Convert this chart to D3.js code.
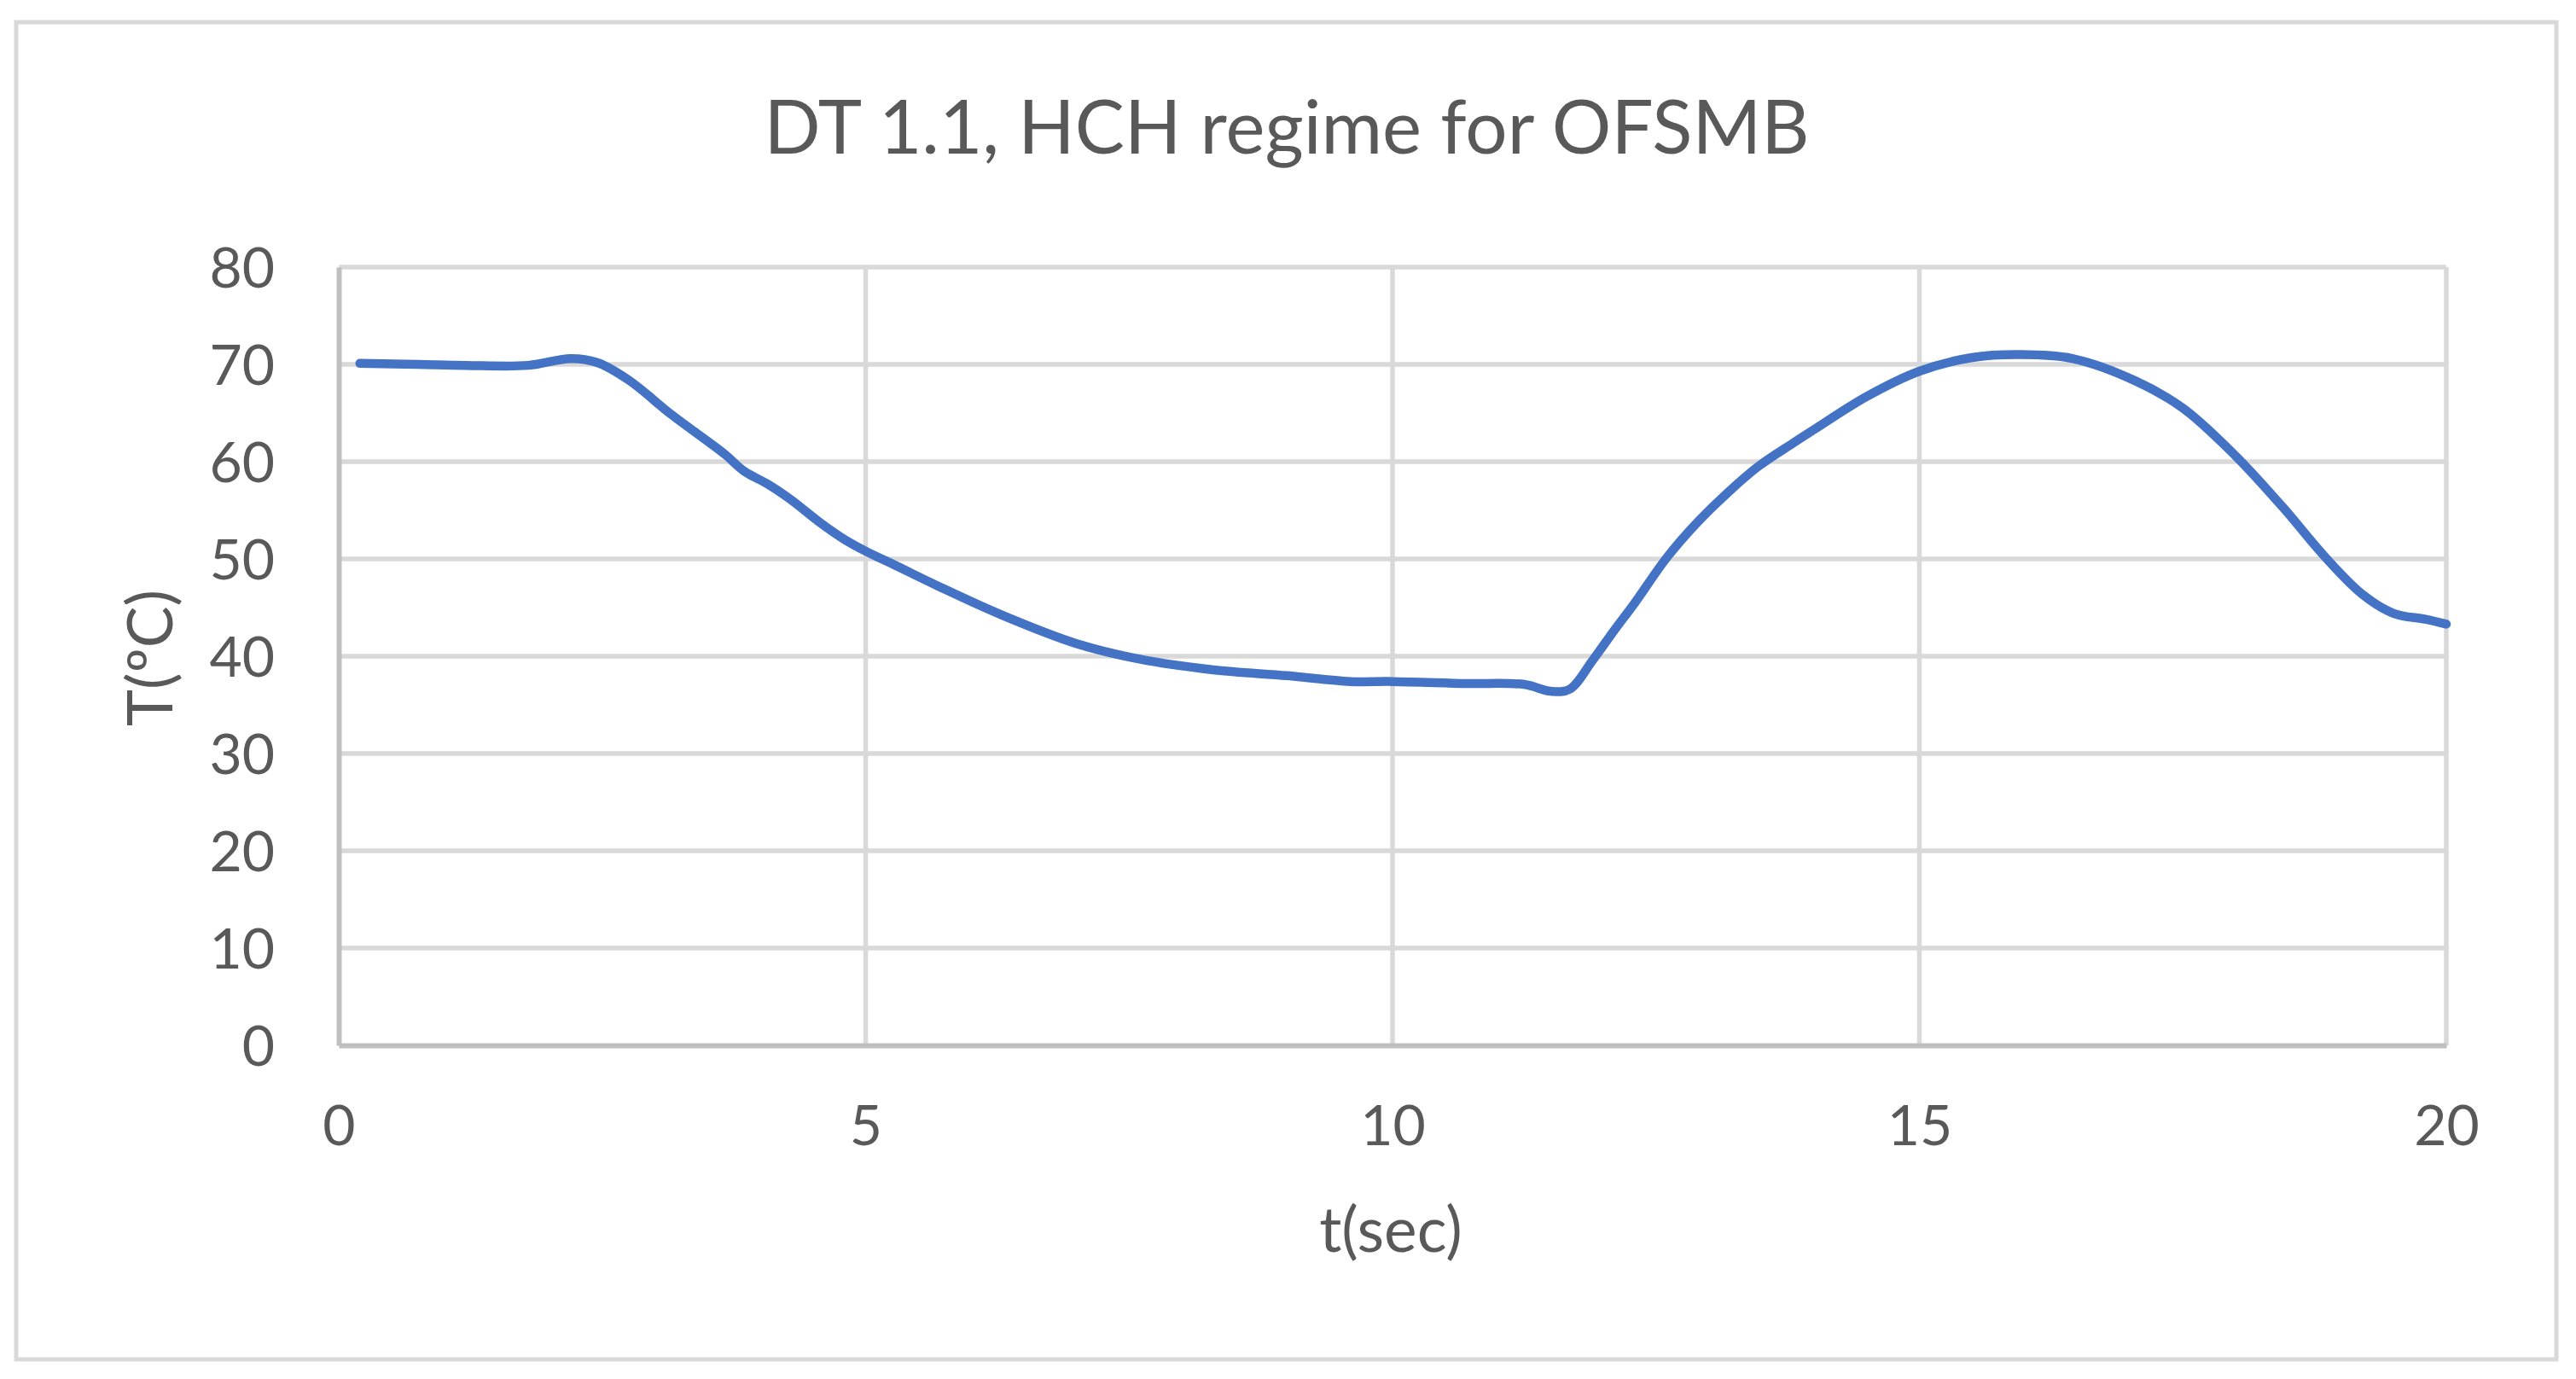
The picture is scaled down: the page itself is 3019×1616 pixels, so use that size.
<!DOCTYPE html>
<html>
<head>
<meta charset="utf-8">
<script src="https://cdn.jsdelivr.net/npm/d3@7"></script>
<style>
  html, body { margin: 0; padding: 0; background: #ffffff; }
  svg { display: block; }
  text { font-family: Lato, "Open Sans", sans-serif; fill: #595959; }
</style>
</head>
<body>
<svg id="chart" width="3019" height="1616"></svg>
<script>
// ---- data ----
const chartTitle = "DT 1.1, HCH regime for OFSMB";
const xTitle = "t(sec)";
const yTitle = "T(ºC)";
const xTicks = [0, 5, 10, 15, 20];
const yTicks = [0, 10, 20, 30, 40, 50, 60, 70, 80];
const timeSec = [0.2, 0.75, 1.2, 1.8, 2.2, 2.45, 2.75, 3.15, 3.5, 3.67, 3.85, 4.07, 4.29, 4.56, 4.8, 5.0, 5.29, 5.69, 6.3, 7.0, 7.6, 8.3, 9.0, 9.6, 10.0, 10.7, 11.25, 11.5, 11.68, 11.9, 12.1, 12.3, 12.6, 12.87, 13.14, 13.47, 13.8, 14.0, 14.5, 15.0, 15.5, 15.95, 16.45, 17.05, 17.5, 18.0, 18.45, 18.85, 19.2, 19.5, 19.8, 20.0];
const tempC   = [70.1, 70.0, 69.9, 69.9, 70.6, 70.2, 68.4, 64.9, 62.1, 60.7, 59.0, 57.7, 56.1, 53.8, 52.0, 50.8, 49.3, 47.2, 44.2, 41.3, 39.7, 38.6, 38.0, 37.4, 37.4, 37.2, 37.1, 36.4, 36.6, 39.6, 42.6, 45.5, 50.1, 53.5, 56.4, 59.5, 61.9, 63.3, 66.7, 69.3, 70.7, 71.0, 70.6, 68.3, 65.5, 60.6, 55.3, 50.2, 46.4, 44.4, 43.8, 43.3];

// ---- layout ----
const plot = { left: 397, right: 2867, top: 313, bottom: 1225 };

const svg = d3.select("#chart");

// outer chart border
svg.append("rect")
  .attr("x", 19).attr("y", 26)
  .attr("width", 2996 - 19).attr("height", 1593 - 26)
  .attr("fill", "#ffffff")
  .attr("stroke", "#d9d9d9").attr("stroke-width", 5);

const x = d3.scaleLinear().domain([0, 20]).range([plot.left, plot.right]);
const y = d3.scaleLinear().domain([0, 80]).range([plot.bottom, plot.top]);

// gridlines
const grid = svg.append("g");
grid.selectAll("line.h").data(yTicks.filter(d => d > 0)).join("line")
  .attr("x1", plot.left).attr("x2", plot.right)
  .attr("y1", d => y(d)).attr("y2", d => y(d))
  .attr("stroke", "#d9d9d9").attr("stroke-width", 5.5);
grid.selectAll("line.v").data(xTicks.filter(d => d > 0)).join("line")
  .attr("y1", plot.top).attr("y2", plot.bottom)
  .attr("x1", d => x(d)).attr("x2", d => x(d))
  .attr("stroke", "#d9d9d9").attr("stroke-width", 5.5);

// axes
const xAxis = d3.axisBottom(x).tickValues(xTicks).tickSize(0).tickPadding(70).tickFormat(d3.format("d"));
const yAxis = d3.axisLeft(y).tickValues(yTicks).tickSize(0).tickPadding(75).tickFormat(d3.format("d"));

const gx = svg.append("g").attr("transform", `translate(0,${plot.bottom})`).call(xAxis);
const gy = svg.append("g").attr("transform", `translate(${plot.left},0)`).call(yAxis);
[gx, gy].forEach(g => {
  g.select(".domain").attr("stroke", "#bfbfbf").attr("stroke-width", 6);
  g.selectAll("text").attr("font-size", 66).attr("fill", "#595959")
    .attr("font-family", "Lato, 'Open Sans', sans-serif");
});
gx.selectAll("text").attr("dy", "0.71em").attr("y", 70);
gy.selectAll("text").attr("dy", "0.35em");

// line
const line = d3.line()
  .x((d, i) => x(timeSec[i]))
  .y((d, i) => y(tempC[i]))
  .curve(d3.curveCatmullRom.alpha(0.5));
svg.append("path")
  .datum(tempC)
  .attr("d", line)
  .attr("fill", "none")
  .attr("stroke", "#4472c4")
  .attr("stroke-width", 10.5)
  .attr("stroke-linecap", "round")
  .attr("stroke-linejoin", "round");

// titles
svg.append("text")
  .attr("x", 1508).attr("y", 180)
  .attr("text-anchor", "middle")
  .attr("font-size", 87)
  .text(chartTitle);

svg.append("text")
  .attr("x", 1630).attr("y", 1467)
  .attr("text-anchor", "middle")
  .attr("font-size", 73)
  .text(xTitle);

svg.append("text")
  .attr("transform", "translate(202,771) rotate(-90)")
  .attr("text-anchor", "middle")
  .attr("font-size", 73)
  .text(yTitle);
</script>
</body>
</html>
